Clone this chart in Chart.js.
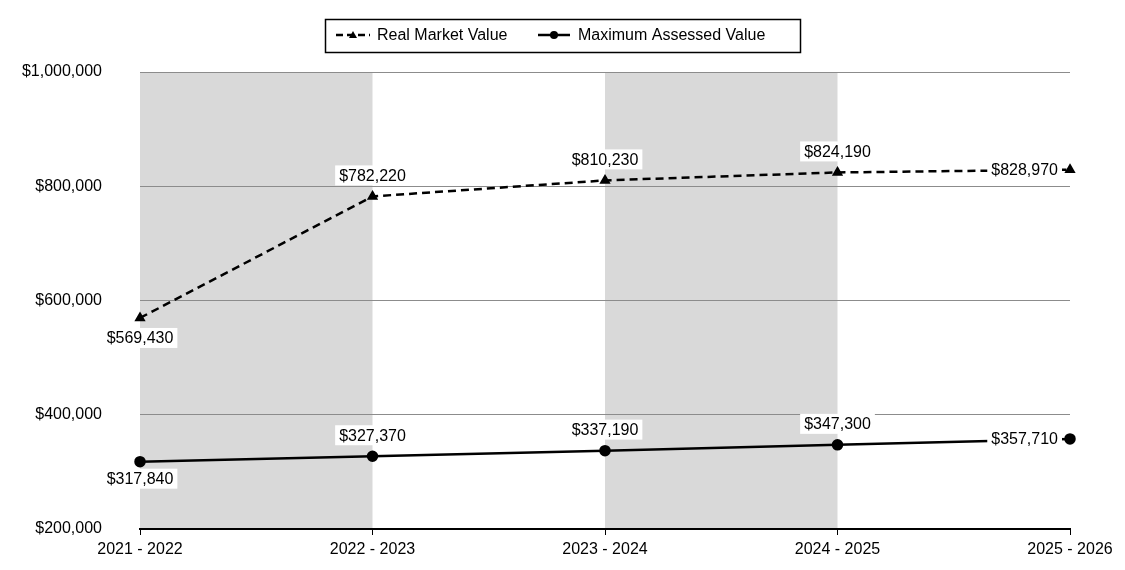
<!DOCTYPE html>
<html><head><meta charset="utf-8">
<script src="https://cdn.jsdelivr.net/npm/chart.js@4"></script>
<style>html,body{margin:0;padding:0;background:#fff}#wrap{width:1125px;height:570px;position:relative}</style>
</head><body><div id="wrap"><canvas id="c" width="1125" height="570"></canvas></div>
<script>
const categories = ["2021 - 2022","2022 - 2023","2023 - 2024","2024 - 2025","2025 - 2026"];
const realMarketValue = [569430, 782220, 810230, 824190, 828970];
const maxAssessedValue = [317840, 327370, 337190, 347300, 357710];
const seriesNames = ["Real Market Value","Maximum Assessed Value"];
const yTicks = [200000, 400000, 600000, 800000, 1000000];

const FONT = '"Liberation Sans", Arial, sans-serif';
const FS = 16;
const fmt = v => '$' + v.toLocaleString('en-US');

const bandPlugin = {
  id: 'bands',
  beforeDraw(chart) {
    const {ctx, chartArea, scales} = chart;
    const x = scales.x;
    ctx.save();
    ctx.fillStyle = '#d9d9d9';
    [[0,1],[2,3]].forEach(([a,b]) => {
      const x1 = x.getPixelForValue(a), x2 = x.getPixelForValue(b);
      ctx.fillRect(x1, chartArea.top, x2 - x1, chartArea.bottom - chartArea.top);
    });
    ctx.restore();
  }
};

const labelPlugin = {
  id: 'dlabels',
  afterDatasetsDraw(chart) {
    const ctx = chart.ctx;
    ctx.save();
    ctx.font = FS + 'px ' + FONT;
    ctx.textBaseline = 'middle';
    chart.data.datasets.forEach((ds, di) => {
      const meta = chart.getDatasetMeta(di);
      meta.data.forEach((pt, i) => {
        const txt = fmt(ds.data[i]);
        const w = ctx.measureText(txt).width;
        let cx, cy;
        const n = meta.data.length;
        if (i === 0) { cx = pt.x; cy = pt.y + (di === 0 ? 20 : 17); }
        else if (i === n - 1) { cx = pt.x - 12 - w / 2; cy = pt.y; }
        else { cx = pt.x; cy = pt.y - 21; }
        ctx.fillStyle = '#fff';
        ctx.fillRect(cx - w / 2 - 4, cy - 10, w + 8, 20);
        ctx.fillStyle = '#000';
        ctx.textAlign = 'center';
        ctx.fillText(txt, cx, cy + 1);
      });
    });
    ctx.restore();
  }
};

const legendPlugin = {
  id: 'customLegend',
  afterDraw(chart) {
    const ctx = chart.ctx;
    ctx.save();
    ctx.strokeStyle = '#000';
    ctx.lineWidth = 1.5;
    ctx.strokeRect(325.5, 19.5, 475, 33);
    const y = 35;
    ctx.font = FS + 'px ' + FONT;
    ctx.textBaseline = 'middle';
    ctx.textAlign = 'left';
    ctx.fillStyle = '#000';
    ctx.lineWidth = 2.5;
    ctx.setLineDash([7,4]);
    ctx.beginPath(); ctx.moveTo(336, y); ctx.lineTo(370, y); ctx.stroke();
    ctx.setLineDash([]);
    ctx.beginPath(); ctx.moveTo(353, y - 4); ctx.lineTo(357, y + 3); ctx.lineTo(349, y + 3); ctx.closePath(); ctx.fill();
    ctx.fillText(seriesNames[0], 377, y + 1);
    ctx.beginPath(); ctx.moveTo(538, y); ctx.lineTo(570, y); ctx.stroke();
    ctx.beginPath(); ctx.arc(554, y, 4, 0, Math.PI * 2); ctx.fill();
    ctx.fillText(seriesNames[1], 578, y + 1);
    ctx.restore();
  }
};

new Chart(document.getElementById('c'), {
  type: 'line',
  data: {
    labels: categories,
    datasets: [
      { label: seriesNames[0], data: realMarketValue, borderColor: '#000', backgroundColor: '#000',
        borderWidth: 2.5, borderDash: [8,5], pointStyle: 'triangle', pointRadius: 4, tension: 0 },
      { label: seriesNames[1], data: maxAssessedValue, borderColor: '#000', backgroundColor: '#000',
        borderWidth: 2.5, pointStyle: 'circle', pointRadius: 4.5, tension: 0 }
    ]
  },
  options: {
    responsive: false,
    animation: false,
    devicePixelRatio: 1,
    layout: { padding: { top: 72, right: 55, left: 0, bottom: 0 } },
    plugins: { legend: { display: false }, tooltip: { enabled: false } },
    scales: {
      x: {
        offset: false,
        grid: { display: true, drawOnChartArea: false, drawTicks: true, tickLength: 6, color: '#000' },
        border: { display: true, color: '#000', width: 2 },
        ticks: { color: '#000', font: { family: FONT, size: FS }, padding: 5, maxRotation: 0, autoSkip: false },
        afterFit(s) { s.height = 41; }
      },
      y: {
        min: yTicks[0], max: yTicks[yTicks.length - 1],
        afterBuildTicks(s) { s.ticks = yTicks.map(v => ({ value: v })); },
        grid: { color: '#8c8c8c', lineWidth: 1, drawTicks: true, tickLength: 36, tickColor: 'rgba(0,0,0,0)' },
        border: { display: false },
        ticks: { color: '#000', font: { family: FONT, size: FS }, padding: 2, callback: v => fmt(v) },
        afterFit(s) { s.width = 140; }
      }
    }
  },
  plugins: [bandPlugin, labelPlugin, legendPlugin]
});
</script></body></html>
